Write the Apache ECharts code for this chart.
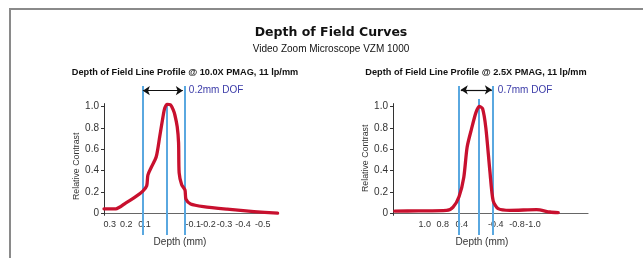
<!DOCTYPE html>
<html>
<head>
<meta charset="utf-8">
<title>Depth of Field Curves</title>
<script src="https://cdn.jsdelivr.net/npm/echarts@6/dist/echarts.min.js"></script>
<style>
  html, body { margin: 0; padding: 0; background: #fff; }
  #main { width: 643px; height: 258px; }
</style>
</head>
<body>
<div id="main"></div>
<script type="text/javascript">
// ---- 10.0X PMAG profile (depth in mm, positive = toward lens) ----
var depth10x    = [0.323, 0.262, 0.21, 0.158, 0.123, 0.103, 0.097, 0.08, 0.054, 0.036, 0.019, 0.010, -0.002, -0.019, -0.033, -0.042, -0.054, -0.061, -0.064, -0.077, -0.094, -0.099, -0.123, -0.189, -0.311, -0.449, -0.571];
var contrast10x = [0.045, 0.045, 0.10, 0.16, 0.21, 0.26, 0.36, 0.43, 0.53, 0.72, 0.906, 0.985, 1.02, 1.016, 0.97, 0.92, 0.81, 0.66, 0.38, 0.27, 0.22, 0.135, 0.09, 0.065, 0.041, 0.019, 0.004];
// the printed depth labels are hand placed, so keep where they sit apart from their text
var tickPos10x  = [0.294, 0.208, 0.114, -0.137, -0.213, -0.297, -0.393, -0.495];
var tickText10x = ['0.3', '0.2', '0.1', '-0.1', '-0.2', '-0.3', '-0.4', '-0.5'];
var dofLines10x = [0.125, 0, -0.094];   // near limit, best focus, far limit
var dofArrow10x = [0.123, -0.083];
var dofText10x  = '0.2mm DOF';
var range10x    = [-0.573, 0.323];

// ---- 2.5X PMAG profile ----
var depth25x    = [1.674, 1.2, 0.64, 0.508, 0.388, 0.294, 0.228, 0.14, 0.054, -0.012, -0.08, -0.146, -0.226, -0.292, -0.392, -0.626, -1.16, -1.426, -1.592];
var contrast25x = [0.024, 0.025, 0.03, 0.06, 0.16, 0.34, 0.62, 0.79, 0.94, 1.0, 0.98, 0.80, 0.40, 0.12, 0.046, 0.03, 0.037, 0.015, 0.01];
var tickPos25x  = [1.074, 0.714, 0.334, -0.346, -0.766, -1.086];
var tickText25x = ['1.0', '0.8', '0.4', '-0.4', '-0.8', '-1.0'];
var dofLines25x = [0.388, 0, -0.292];
var dofArrow25x = [0.354, -0.266];
var dofText25x  = '0.7mm DOF';
var range25x    = [-2.186, 1.708];

var contrastTicks = [0, 0.2, 0.4, 0.6, 0.8, 1.0];

var myChart = echarts.init(document.getElementById('main'));

var RED = '#c8102e', BLUE = '#5aa8e0';
var SANS = '"Liberation Sans", Arial, sans-serif';

function pairs(xs, ys) {
  return xs.map(function (x, i) { return [x, ys[i]]; });
}

// marker lines on the overlay grid: y axis line, DOF limits, arrow with caption
function dofMarks(lines, arrow, text, xLeft, arrowY, focusTop) {
  var data = [];
  data.push([
    { coord: [xLeft, -0.02], symbol: 'none', lineStyle: { color: '#333', width: 1, type: 'solid' } },
    { coord: [xLeft, 1.03], symbol: 'none' }
  ]);
  lines.forEach(function (x) {
    var top = x === 0 ? focusTop : 1.19;
    data.push([
      { coord: [x, -0.2], symbol: 'none', lineStyle: { color: BLUE, width: 2, type: 'solid' } },
      { coord: [x, top], symbol: 'none' }
    ]);
  });
  data.push([
    { coord: [arrow[0], arrowY], symbol: 'arrow', symbolSize: 7, lineStyle: { color: '#111', width: 1.2, type: 'solid' } },
    { coord: [arrow[1], arrowY], symbol: 'arrow', symbolSize: 7,
      label: { show: true, position: 'end', distance: 6, formatter: text, color: '#3b3ba8', fontFamily: SANS, fontSize: 10 } }
  ]);
  return { silent: true, animation: false, label: { show: false }, data: data };
}

function xAxisFor(idx, range, pos, text, padRight) {
  return {
    gridIndex: idx,
    type: 'value',
    min: range[0],
    max: range[1],
    inverse: true,
    axisLine: { onZero: false, lineStyle: { color: '#666', width: 1.2 } },
    axisTick: { show: false },
    splitLine: { show: false },
    axisLabel: {
      customValues: pos,
      hideOverlap: false,
      margin: 6,
      color: '#333',
      fontFamily: SANS,
      fontSize: 9,
      formatter: function (v) {
        for (var i = 0; i < pos.length; i++) {
          if (Math.abs(pos[i] - v) < 1e-6) return text[i];
        }
        return '';
      }
    },
    name: 'Depth (mm)',
    nameLocation: 'middle',
    nameGap: 24,
    nameTextStyle: { color: '#333', fontFamily: SANS, fontSize: 10, padding: [0, padRight, 0, 0] }
  };
}

function yAxisFor(idx, gap, padRight) {
  return {
    gridIndex: idx,
    type: 'value',
    min: 0,
    max: 1.2,
    axisLine: { show: false, onZero: false },
    axisTick: { show: true, customValues: contrastTicks, length: 3, lineStyle: { color: '#333' } },
    splitLine: { show: false },
    axisLabel: {
      customValues: contrastTicks,
      hideOverlap: false,
      margin: 5,
      color: '#333',
      fontFamily: SANS,
      fontSize: 10,
      formatter: function (v) { return v === 0 ? '0' : v.toFixed(1); }
    },
    name: 'Relative Contrast',
    nameLocation: 'middle',
    nameGap: gap,
    nameTextStyle: { color: '#333', fontFamily: SANS, fontSize: 8.8, padding: [0, padRight, 0, 0] }
  };
}

// hidden axes for the overlay grids (blue DOF lines reach below the zero line)
function hiddenX(idx, range) {
  return { gridIndex: idx, type: 'value', min: range[0], max: range[1], inverse: true, show: false };
}
function hiddenY(idx) {
  return { gridIndex: idx, type: 'value', min: -0.2, max: 1.2, show: false };
}

var option = {
  backgroundColor: '#fff',
  animation: false,
  title: [
    { text: 'Depth of Field Curves', left: 326, top: 21, textAlign: 'center',
      textStyle: { fontFamily: '"DejaVu Sans", sans-serif', fontWeight: 'bold', fontSize: 12.5, color: '#111' } },
    { text: 'Video Zoom Microscope VZM 1000', left: 326, top: 39, textAlign: 'center',
      textStyle: { fontFamily: SANS, fontWeight: 'normal', fontSize: 10, color: '#111' } },
    { text: 'Depth of Field Line Profile @ 10.0X PMAG, 11 lp/mm', left: 180, top: 63, textAlign: 'center',
      textStyle: { fontFamily: SANS, fontWeight: 'bold', fontSize: 9.2, color: '#111' } },
    { text: 'Depth of Field Line Profile @ 2.5X PMAG, 11 lp/mm', left: 471, top: 63, textAlign: 'center',
      textStyle: { fontFamily: SANS, fontWeight: 'bold', fontSize: 9.2, color: '#111' } }
  ],
  // page frame (only top and left edges fall inside the picture)
  graphic: [{
    type: 'rect', silent: true,
    shape: { x: 10, y: 9, width: 800, height: 400 },
    style: { fill: null, stroke: '#8a8a8a', lineWidth: 2 }
  }],
  grid: [
    { left: 104, width: 174, top: 85, height: 128.6, outerBoundsMode: 'none' },
    { left: 393, width: 195, top: 85, height: 128.6, outerBoundsMode: 'none' },
    { left: 104, width: 174, top: 85, height: 150, outerBoundsMode: 'none' },
    { left: 393, width: 195, top: 85, height: 150, outerBoundsMode: 'none' }
  ],
  xAxis: [
    xAxisFor(0, range10x, tickPos10x, tickText10x, 22),
    xAxisFor(1, range25x, tickPos25x, tickText25x, 17),
    hiddenX(2, range10x),
    hiddenX(3, range25x)
  ],
  yAxis: [
    yAxisFor(0, 21, 34),
    yAxisFor(1, 19, 18),
    hiddenY(2),
    hiddenY(3)
  ],
  series: [
    {
      name: 'DOF 10.0X', type: 'line', xAxisIndex: 2, yAxisIndex: 2, data: [],
      markLine: dofMarks(dofLines10x, dofArrow10x, dofText10x, range10x[1], 1.147, 1.03)
    },
    {
      name: 'DOF 2.5X', type: 'line', xAxisIndex: 3, yAxisIndex: 3, data: [],
      markLine: dofMarks(dofLines25x, dofArrow25x, dofText25x, range25x[1], 1.155, 1.07)
    },
    {
      name: '10.0X PMAG', type: 'line', xAxisIndex: 0, yAxisIndex: 0, z: 5,
      smooth: 0.25, showSymbol: false,
      lineStyle: { color: RED, width: 3.3, cap: 'round', join: 'round' },
      data: pairs(depth10x, contrast10x)
    },
    {
      name: '2.5X PMAG', type: 'line', xAxisIndex: 1, yAxisIndex: 1, z: 5,
      smooth: 0.25, showSymbol: false,
      lineStyle: { color: RED, width: 3.3, cap: 'round', join: 'round' },
      data: pairs(depth25x, contrast25x)
    }
  ]
};

myChart.setOption(option);
window.addEventListener('resize', function () {
  myChart.resize();
});
</script>
</body>
</html>
